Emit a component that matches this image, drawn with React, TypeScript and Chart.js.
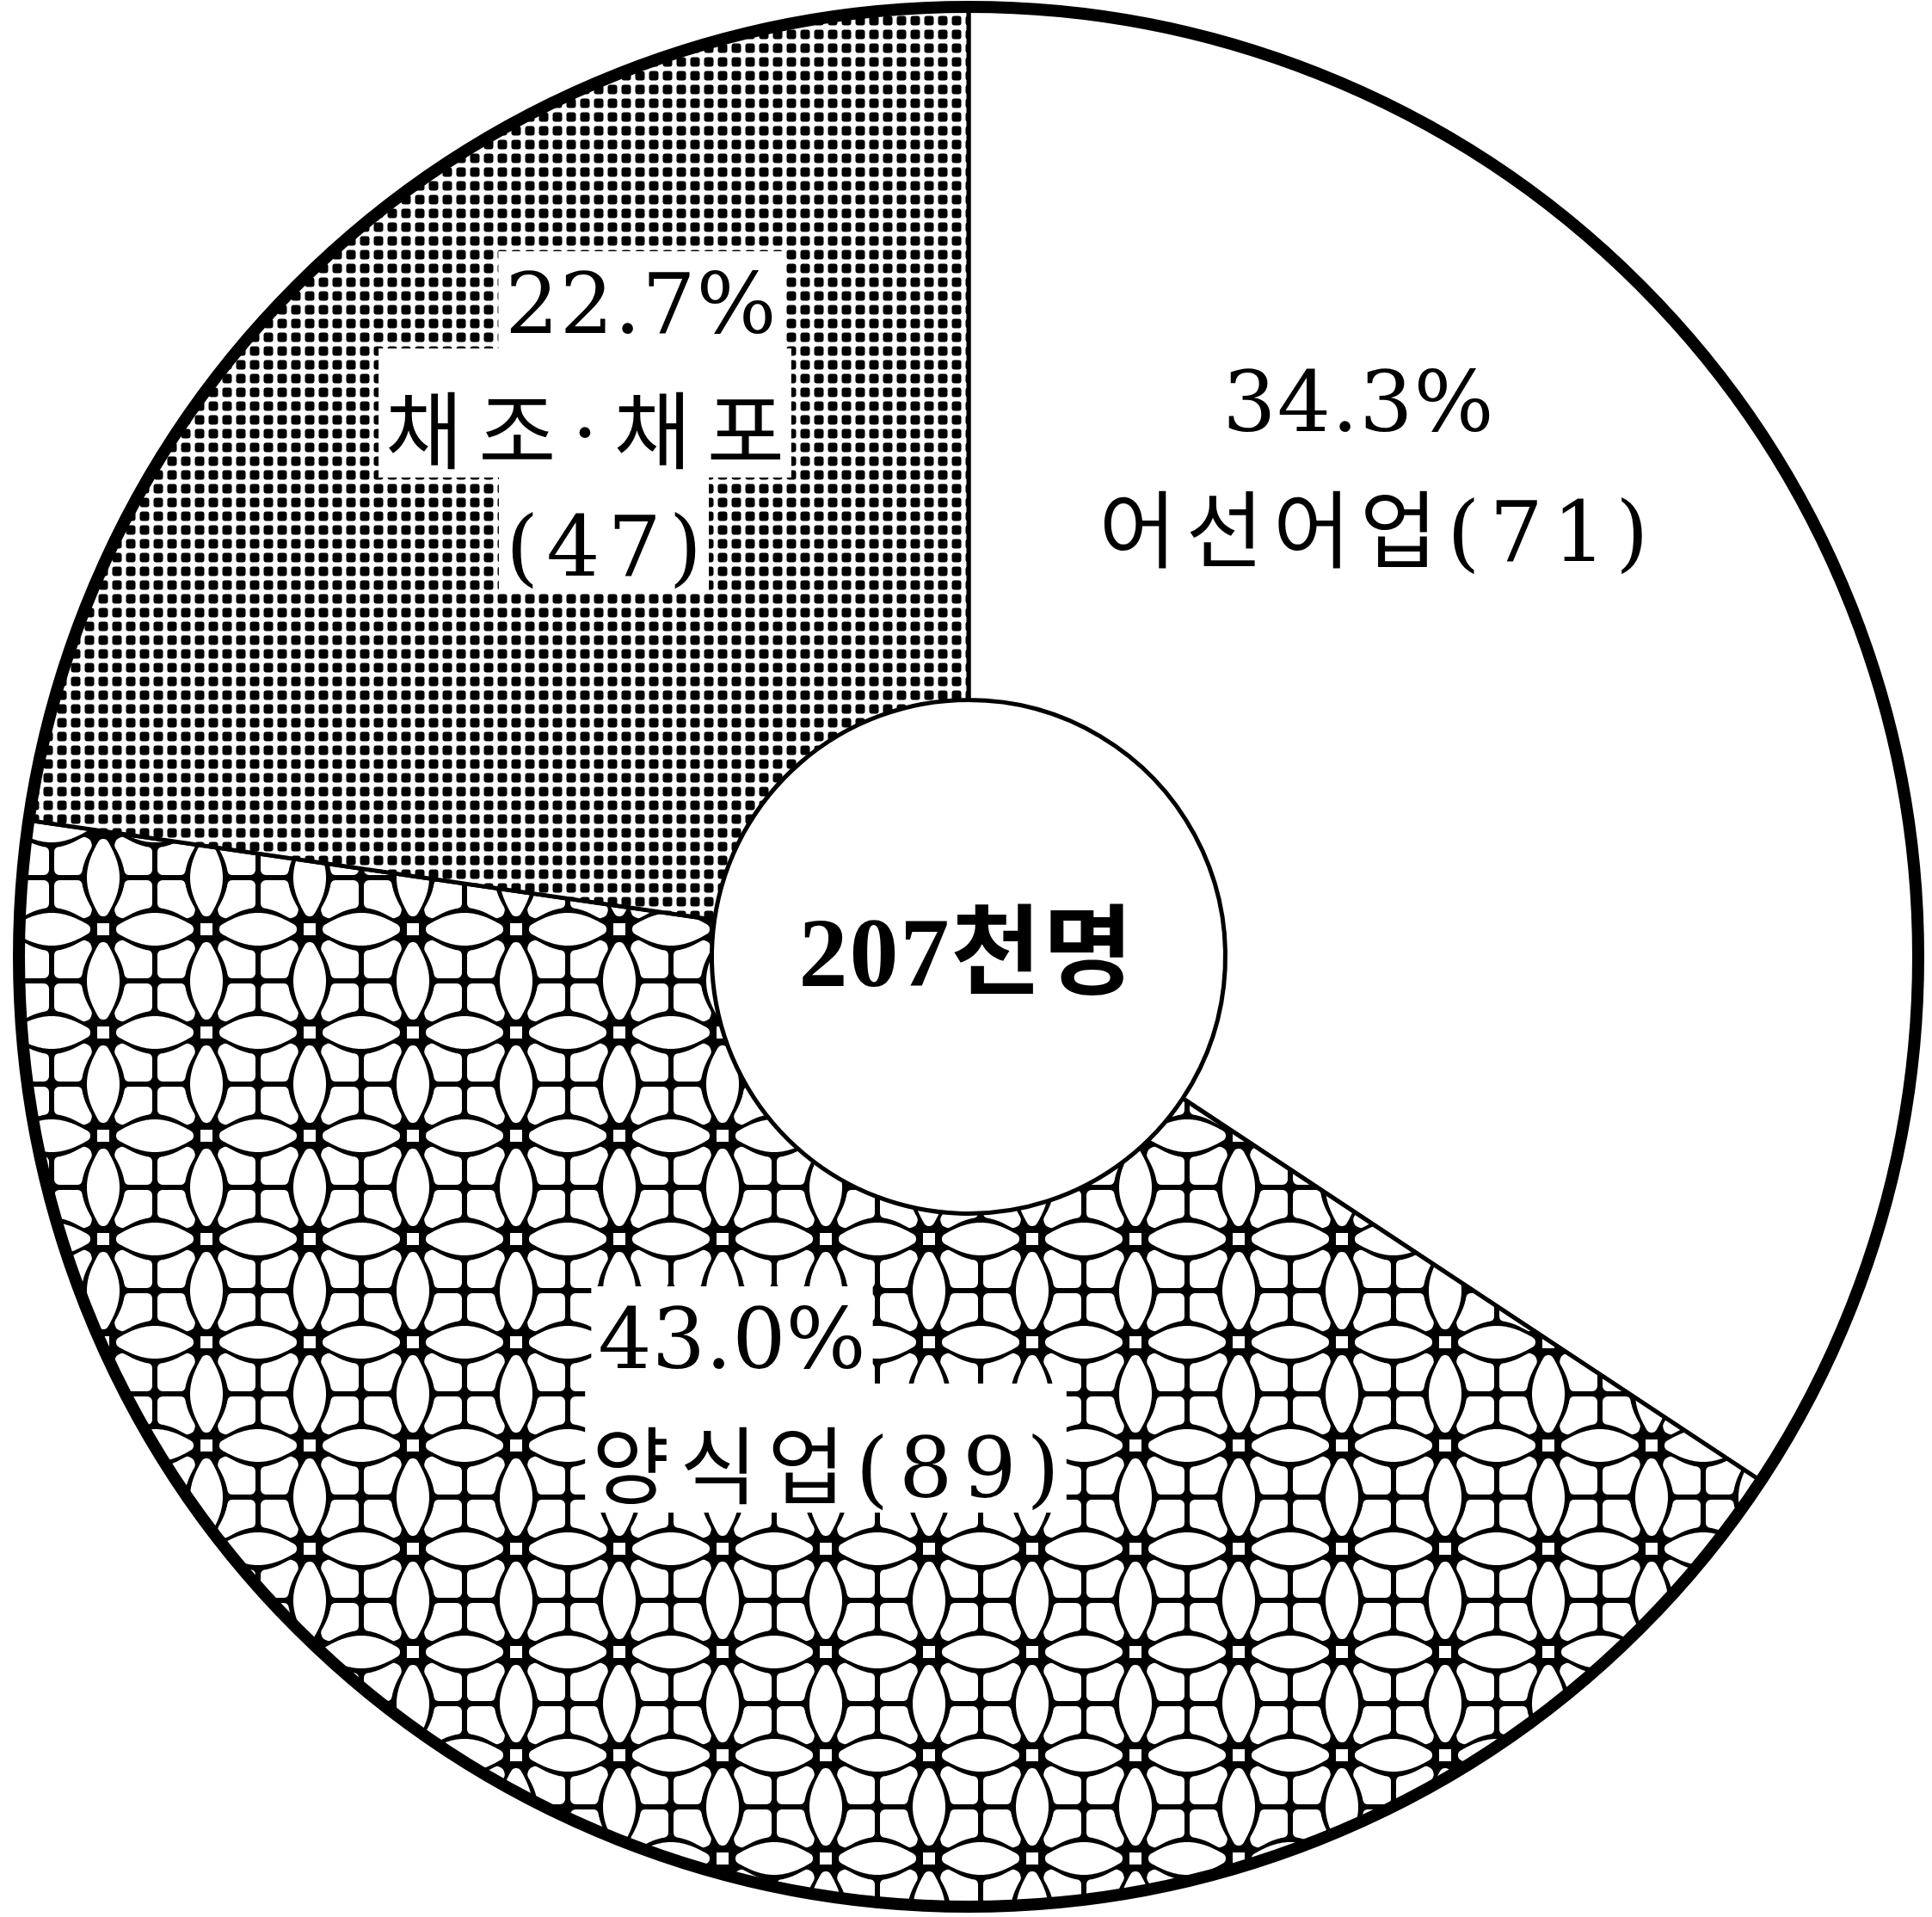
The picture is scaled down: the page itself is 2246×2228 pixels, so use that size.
import React, { useEffect, useRef } from 'react';
import { Chart, registerables } from 'chart.js';

Chart.register(...registerables);

// ---- data (천명) ----
const categories = ['어선어업', '양식업', '채조·채포'];
const workers = [71, 89, 47];
const shares = ['34.3%', '43.0%', '22.7%'];
const totalLabel = '207천명';

// text lines per slice
const sliceLines: string[][] = [
  [shares[0], `${categories[0]}(${workers[0]})`],
  [shares[1], `${categories[1]}(${workers[1]})`],
  [shares[2], categories[2], `(${workers[2]})`],
];

// ---- layout (offsets of each text baseline-centre from the chart centre, px) ----
const FONT = '"DejaVu Serif", "Noto Sans CJK KR", serif';
const CENTER_FONT = '"Liberation Serif", "Noto Sans CJK KR", serif';
const LABEL_SIZE = 98;
const lineLayout = [
  { box: false, lines: [{ dx: 453, dy: -611, ls: 1 }, { dx: 471, dy: -460, ls: 11 }] },
  { box: true, lines: [{ dx: -275, dy: 478, ls: 0 }, { dx: -166, dy: 628, ls: 12 }] },
  { box: true, lines: [{ dx: -381, dy: -725, ls: 1 }, { dx: -446, dy: -575, ls: 18 }, { dx: -424, dy: -443, ls: 9 }] },
];

function makeGridPattern(ctx: CanvasRenderingContext2D) {
  const S = 16;
  const c = document.createElement('canvas');
  c.width = S; c.height = S;
  const t = c.getContext('2d')!;
  t.fillStyle = '#fff';
  t.fillRect(0, 0, S, S);
  t.fillStyle = '#000';
  t.beginPath();
  (t as any).roundRect ? (t as any).roundRect(2.5, 2.5, 11, 11, 3) : t.rect(2.5, 2.5, 11, 11);
  t.fill();
  return ctx.createPattern(c, 'repeat')!;
}

function makeFlowerPattern(ctx: CanvasRenderingContext2D) {
  const P = 120, m = P / 2, d = 9, r = 6, H = 22, a = 6;
  const c = document.createElement('canvas');
  c.width = P; c.height = P;
  const t = c.getContext('2d')!;
  t.fillStyle = '#000';
  t.fillRect(0, 0, P, P);
  t.fillStyle = '#fff';
  t.strokeStyle = '#fff';
  t.lineWidth = 2 * r;
  t.lineJoin = 'round';
  const leafY = (x: number) => (x <= a || x >= P - a ? 0 : H * Math.sin((Math.PI * (x - a)) / (P - 2 * a)));
  const shape = (pts: number[][]) => {
    t.beginPath();
    pts.forEach(([x, y], i) => (i ? t.lineTo(x, y) : t.moveTo(x, y)));
    t.closePath();
    t.fill();
    t.stroke();
  };
  // leaves (lens shapes along lattice edges)
  const top: number[][] = [];
  const bot: number[][] = [];
  for (let x = a; x <= P - a; x += 1.5) {
    const h = leafY(x) - d;
    if (h > 0) { top.push([x, -h]); bot.push([x, h]); }
  }
  const lp = top.concat(bot.reverse());
  for (const oy of [0, P]) shape(lp.map(([x, y]) => [x, y + oy]));
  for (const ox of [0, P]) shape(lp.map(([x, y]) => [y + ox, x]));
  // white centres of the lattice squares
  for (const [x, y] of [[0, 0], [P, 0], [0, P], [P, P]]) t.clearRect(0, 0, 0, 0), (t.fillStyle = '#fff'), t.fillRect(x - 7, y - 7, 14, 14);
  // quadrant petals
  const lim = m - d;
  const q: number[][] = [[20, 20]];
  for (let x = 22; x <= lim; x += 1.5) q.push([x, leafY(x) + d]);
  q.push([lim, leafY(lim) + d]);
  q.push([lim, lim]);
  q.push([leafY(lim) + d, lim]);
  for (let y = lim; y >= 22; y -= 1.5) q.push([leafY(y) + d, y]);
  shape(q);
  shape(q.map(([x, y]) => [P - x, y]));
  shape(q.map(([x, y]) => [x, P - y]));
  shape(q.map(([x, y]) => [P - x, P - y]));
  return ctx.createPattern(c, 'repeat')!;
}

const decorPlugin = {
  id: 'decor',
  afterDatasetsDraw(chart: any) {
    const ctx: CanvasRenderingContext2D = chart.ctx;
    const arc = chart.getDatasetMeta(0).data[0];
    const cx = arc.x, cy = arc.y, R = arc.outerRadius;
    ctx.save();
    // heavier outer ring
    ctx.beginPath();
    ctx.arc(cx, cy, R, 0, Math.PI * 2);
    ctx.lineWidth = 14;
    ctx.strokeStyle = '#000';
    ctx.stroke();

    ctx.textAlign = 'left';
    ctx.textBaseline = 'alphabetic';
    const drawGroup = (lines: string[], layout: any) => {
      let prevBottom: number | null = null;
      lines.forEach((text, i) => {
        const L = layout.lines[i];
        ctx.font = `${LABEL_SIZE}px ${FONT}`;
        (ctx as any).letterSpacing = `${L.ls}px`;
        const w = ctx.measureText(text).width - L.ls;
        const bx = cx + L.dx;
        const by = cy + L.dy;
        if (layout.box) {
          const top = prevBottom === null ? by - 95 : prevBottom;
          const bottom = by + 18;
          ctx.fillStyle = '#fff';
          ctx.fillRect(bx - w / 2 - 8, top, w + 16, bottom - top);
          prevBottom = bottom;
        }
        ctx.fillStyle = '#000';
        ctx.fillText(text, bx - w / 2, by);
      });
    };
    sliceLines.forEach((lines, i) => drawGroup(lines, lineLayout[i]));

    // centre total
    ctx.font = `bold 114px ${CENTER_FONT}`;
    (ctx as any).letterSpacing = '2px';
    const tw = ctx.measureText(totalLabel).width - 2;
    ctx.fillStyle = '#000';
    ctx.fillText(totalLabel, cx - 3 - tw / 2, cy + 34);
    ctx.restore();
  },
};

export default function App() {
  const ref = useRef<HTMLCanvasElement>(null);
  useEffect(() => {
    const canvas = ref.current!;
    const ctx = canvas.getContext('2d')!;
    const chart = new Chart(canvas, {
      type: 'doughnut',
      data: {
        labels: categories,
        datasets: [
          {
            data: workers,
            backgroundColor: ['#ffffff', makeFlowerPattern(ctx), makeGridPattern(ctx)] as any,
            borderColor: '#000',
            borderWidth: 5,
            hoverOffset: 0,
            radius: 1104,
            cutout: 300,
          } as any,
        ],
      },
      options: {
        responsive: false,
        animation: false,
        events: [],
        radius: 1104,
        cutout: 300,
        layout: { padding: { left: 6, top: 0, right: 0, bottom: 4 } },
        plugins: { legend: { display: false }, tooltip: { enabled: false } },
      } as any,
      plugins: [decorPlugin],
    });
    return () => chart.destroy();
  }, []);
  return (
    <canvas
      ref={ref}
      width={2246}
      height={2228}
      style={{ position: 'absolute', left: 0, top: 0, display: 'block' }}
    />
  );
}
